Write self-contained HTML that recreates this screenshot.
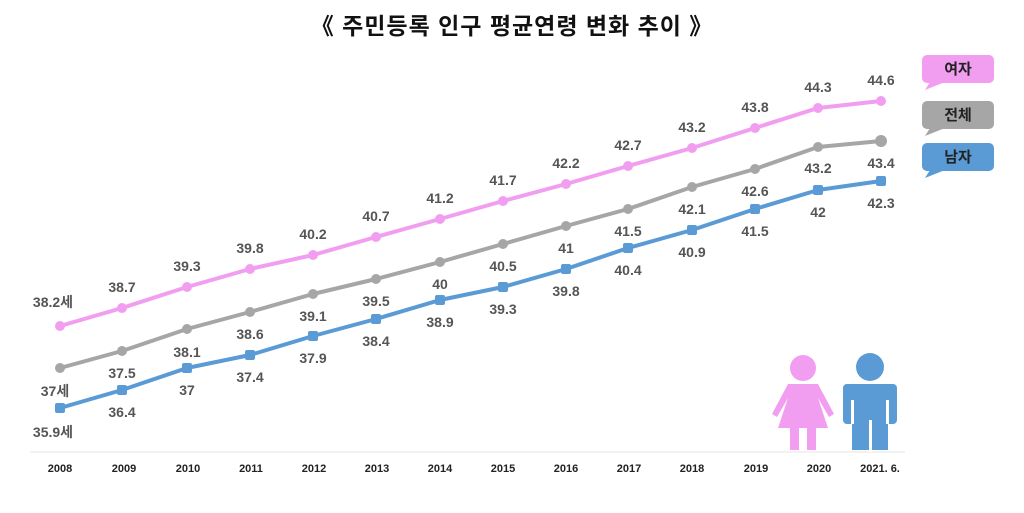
<!DOCTYPE html>
<html><head><meta charset="utf-8"><style>
html,body{margin:0;padding:0;background:#fff;}
svg{display:block;font-family:"Liberation Sans","Noto Sans CJK KR",sans-serif;}
</style></head><body>
<svg width="1024" height="513" viewBox="0 0 1024 513">
<text x="512" y="34" text-anchor="middle" font-size="23" font-weight="bold" fill="#111" letter-spacing="1">《 주민등록 인구 평균연령 변화 추이 》</text>
<line x1="30" y1="452" x2="905" y2="452" stroke="#e4e4e4" stroke-width="1"/>
<g font-size="11" font-weight="bold" fill="#222" text-anchor="middle">
<text x="60" y="472">2008</text><text x="124" y="472">2009</text><text x="188" y="472">2010</text><text x="251" y="472">2011</text><text x="314" y="472">2012</text><text x="377" y="472">2013</text><text x="440" y="472">2014</text><text x="503" y="472">2015</text><text x="566" y="472">2016</text><text x="629" y="472">2017</text><text x="692" y="472">2018</text><text x="756" y="472">2019</text><text x="819" y="472">2020</text><text x="880" y="472">2021. 6.</text>
</g>
<g stroke-width="4" fill="none" stroke-linejoin="round">
<polyline stroke="#f29ef0" points="60,326 122,308 187,287 250,269 313,255 376,237 440,219 503,201 566,184 628,166 692,148 755,128 818,108 881,101"/>
<polyline stroke="#a6a6a6" points="60,368 122,351 187,329 250,312 313,294 376,279 440,262 503,244 566,226 628,209 692,187 755,169 818,147 881,141"/>
<polyline stroke="#5b9bd5" points="60,408 122,390 187,368 250,355 313,336 376,319 440,300 503,287 566,269 628,248 692,230 755,209 818,190 881,181"/>
</g>
<g fill="#f29ef0"><circle cx="60" cy="326" r="5"/><circle cx="122" cy="308" r="5"/><circle cx="187" cy="287" r="5"/><circle cx="250" cy="269" r="5"/><circle cx="313" cy="255" r="5"/><circle cx="376" cy="237" r="5"/><circle cx="440" cy="219" r="5"/><circle cx="503" cy="201" r="5"/><circle cx="566" cy="184" r="5"/><circle cx="628" cy="166" r="5"/><circle cx="692" cy="148" r="5"/><circle cx="755" cy="128" r="5"/><circle cx="818" cy="108" r="5"/><circle cx="881" cy="101" r="5"/></g>
<g fill="#a6a6a6"><circle cx="60" cy="368" r="5"/><circle cx="122" cy="351" r="5"/><circle cx="187" cy="329" r="5"/><circle cx="250" cy="312" r="5"/><circle cx="313" cy="294" r="5"/><circle cx="376" cy="279" r="5"/><circle cx="440" cy="262" r="5"/><circle cx="503" cy="244" r="5"/><circle cx="566" cy="226" r="5"/><circle cx="628" cy="209" r="5"/><circle cx="692" cy="187" r="5"/><circle cx="755" cy="169" r="5"/><circle cx="818" cy="147" r="5"/><circle cx="881" cy="141" r="6"/></g>
<g fill="#5b9bd5"><rect x="55" y="403" width="10" height="10" rx="2"/><rect x="117" y="385" width="10" height="10" rx="2"/><rect x="182" y="363" width="10" height="10" rx="2"/><rect x="245" y="350" width="10" height="10" rx="2"/><rect x="308" y="331" width="10" height="10" rx="2"/><rect x="371" y="314" width="10" height="10" rx="2"/><rect x="435" y="295" width="10" height="10" rx="2"/><rect x="498" y="282" width="10" height="10" rx="2"/><rect x="561" y="264" width="10" height="10" rx="2"/><rect x="623" y="243" width="10" height="10" rx="2"/><rect x="687" y="225" width="10" height="10" rx="2"/><rect x="750" y="204" width="10" height="10" rx="2"/><rect x="813" y="185" width="10" height="10" rx="2"/><rect x="876" y="176" width="10" height="10" rx="2"/></g>
<g font-size="14" font-weight="bold" fill="#555" text-anchor="middle">
<text x="53" y="307">38.2세</text><text x="122" y="292">38.7</text><text x="187" y="271">39.3</text><text x="250" y="253">39.8</text><text x="313" y="239">40.2</text><text x="376" y="221">40.7</text><text x="440" y="203">41.2</text><text x="503" y="185">41.7</text><text x="566" y="168">42.2</text><text x="628" y="150">42.7</text><text x="692" y="132">43.2</text><text x="755" y="112">43.8</text><text x="818" y="92">44.3</text><text x="881" y="85">44.6</text>
<text x="55" y="396">37세</text><text x="122" y="378">37.5</text><text x="187" y="357">38.1</text><text x="250" y="339">38.6</text><text x="313" y="321">39.1</text><text x="376" y="306">39.5</text><text x="440" y="289">40</text><text x="503" y="271">40.5</text><text x="566" y="253">41</text><text x="628" y="236">41.5</text><text x="692" y="214">42.1</text><text x="755" y="196">42.6</text><text x="818" y="173">43.2</text><text x="881" y="168">43.4</text>
<text x="53" y="437">35.9세</text><text x="122" y="417">36.4</text><text x="187" y="395">37</text><text x="250" y="382">37.4</text><text x="313" y="363">37.9</text><text x="376" y="346">38.4</text><text x="440" y="327">38.9</text><text x="503" y="314">39.3</text><text x="566" y="296">39.8</text><text x="628" y="275">40.4</text><text x="692" y="257">40.9</text><text x="755" y="236">41.5</text><text x="818" y="217">42</text><text x="881" y="208">42.3</text>
</g>
<g font-size="15" font-weight="bold" fill="#222" text-anchor="middle">
<rect x="922" y="55" width="72" height="28" rx="5" fill="#f29ef0"/><polygon points="930,82 945,82 925,90" fill="#f29ef0"/><text x="958" y="74">여자</text>
<rect x="922" y="101" width="72" height="28" rx="5" fill="#a6a6a6"/><polygon points="930,128 945,128 925,136" fill="#a6a6a6"/><text x="958" y="120">전체</text>
<rect x="922" y="143" width="72" height="28" rx="5" fill="#5b9bd5"/><polygon points="930,170 945,170 925,178" fill="#5b9bd5"/><text x="958" y="162">남자</text>
</g>
<g fill="#f29ef0">
<circle cx="803" cy="368" r="13"/>
<path d="M788,384 H818 L834,414 L829,417 L818,398 L828,428 H778 L788,398 L777,417 L772,414 Z"/>
<rect x="790" y="426" width="9" height="24"/><rect x="807" y="426" width="9" height="24"/>
</g>
<g fill="#5b9bd5">
<circle cx="870" cy="367" r="14"/>
<rect x="843" y="384" width="54" height="40" rx="4"/>
<rect x="852" y="400" width="36" height="50"/>
</g>
<g fill="#fff"><rect x="851" y="400" width="3" height="24"/><rect x="886" y="400" width="3" height="24"/><rect x="869" y="420" width="3" height="32"/></g>
</svg>
</body></html>
